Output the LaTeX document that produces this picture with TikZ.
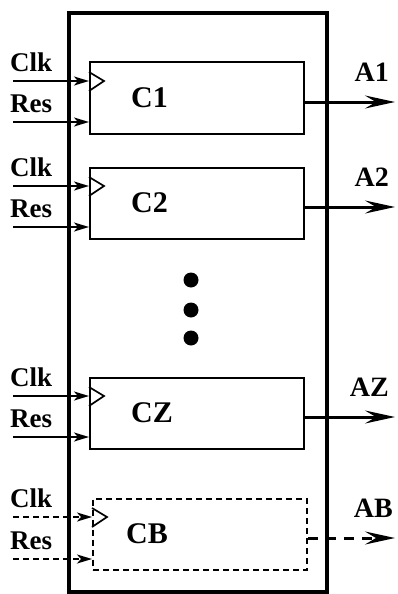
\documentclass[tikz,border=0pt]{standalone}
\usepackage{fontspec}
\setmainfont{Liberation Serif}
\usetikzlibrary{arrows.meta,positioning}

\begin{document}
\begin{tikzpicture}[
  x=1pt, y=-1pt,
  frame/.style={line width=3.2pt},
  blk/.style={draw, line width=2pt, minimum width=214pt, minimum height=71pt, inner sep=0pt},
  blkdash/.style={blk, dash pattern=on 6pt off 4pt},
  blklbl/.style={font=\fontsize{30}{30}\selectfont\bfseries, inner sep=0pt, anchor=west},
  pinlbl/.style={font=\fontsize{27}{27}\selectfont\bfseries, inner sep=0pt},
  outlbl/.style={font=\fontsize{28}{28}\selectfont\bfseries, inner sep=0pt},
  inarr/.style={line width=2pt, -{Stealth[length=15pt, width=9pt, inset=4pt]}},
  outarr/.style={line width=3pt, -{Stealth[length=30pt, width=13pt, inset=11pt]}},
  clkmark/.style={line width=1.7pt},
  dot/.style={circle, fill, minimum size=15pt, inner sep=0pt}
]
  \useasboundingbox (0,0) rectangle (397,594);
  \draw[frame] (69,13) rectangle (327,592);
  % solid blocks
  \foreach \n/\y in {1/98, 2/203, Z/413} {
    \node[blk] (c\n) at (197,\y) {};
    \node[blklbl, right=42pt of c\n.west] {C\n};
    \coordinate (clk\n) at (13,\y-17);
    \coordinate (res\n) at (13,\y+24);
    \coordinate (out\n) at (395,\y+4);
    \draw[inarr] (clk\n) -- (c\n.west |- clk\n);
    \draw[inarr] (res\n) -- (c\n.west |- res\n);
    \draw[clkmark] (c\n.west |- clk\n) ++(0,-9) -- ++(15,9) -- ++(-15,10);
    \node[pinlbl, above right=9pt and -3pt of clk\n] {Clk};
    \node[pinlbl, above right=9pt and -3pt of res\n] {Res};
    \draw[outarr] (c\n.east |- out\n) -- (out\n);
    \node[outlbl, above left=20pt and 6pt of out\n] {A\n};
  }
  % dots
  \node[dot] (d1) at (191,280) {};
  \node[dot] (d2) at (191,310) {};
  \node[dot] (d3) at (191,338) {};
  % dashed block
  \node[blkdash] (cB) at (200,534) {};
  \node[blklbl, right=34pt of cB.west] {CB};
  \coordinate (clkB) at (13,517);
  \coordinate (resB) at (13,559);
  \coordinate (outB) at (395,538);
  \draw[inarr, dash pattern=on 6pt off 4pt] (clkB) -- (cB.west |- clkB);
  \draw[inarr, dash pattern=on 6pt off 4pt] (resB) -- (cB.west |- resB);
  \draw[clkmark] (cB.west |- clkB) ++(0,-9) -- ++(15,9) -- ++(-15,10);
  \node[pinlbl, above right=9pt and -3pt of clkB] {Clk};
  \node[pinlbl, above right=9pt and -3pt of resB] {Res};
  \draw[outarr, dash pattern=on 10pt off 8pt] (cB.east |- outB) -- (outB);
  \node[outlbl, above left=20pt and 2pt of outB] {AB};
\end{tikzpicture}
\end{document}
